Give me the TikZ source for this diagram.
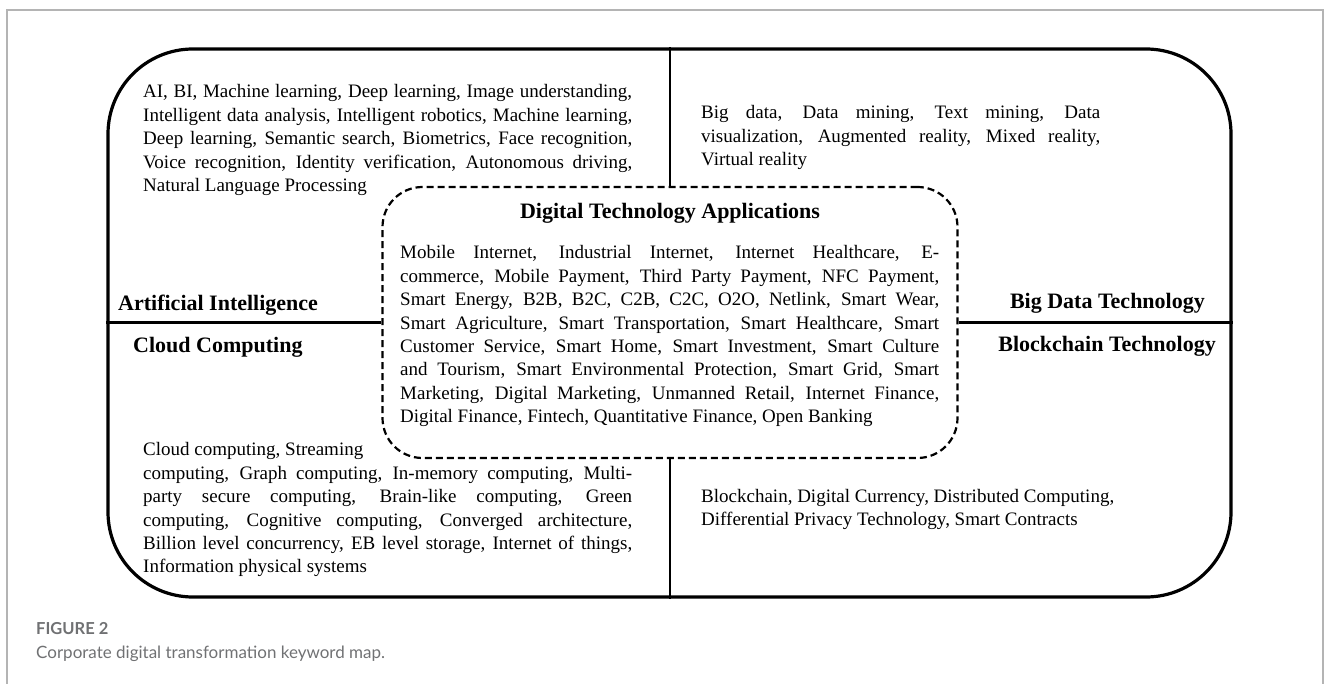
\documentclass[tikz,border=0pt]{standalone}
\usepackage{fontspec}
\setmainfont{Liberation Serif}
\newfontfamily\captionfont{Lato}
\definecolor{captiongray}{HTML}{707173}
\definecolor{framegray}{HTML}{B4B4B4}
\tolerance=9999
\hbadness=10000

\tikzset{
  mapframe/.style={draw, line width=3.2pt, rounded corners=85pt,
    minimum width=1123pt, minimum height=548pt, inner sep=0pt},
  appframe/.style={draw, line width=2.2pt, dash pattern=on 7pt off 4pt,
    rounded corners=40pt, minimum width=575pt, minimum height=271pt, inner sep=0pt},
  divider/.style={line width=2.2pt},
  keywords/.style={anchor=base west, inner sep=0pt, align=justify,
    font=\fontsize{19}{23.4}\selectfont},
  heading/.style={inner sep=0pt, font=\fontsize{22}{25}\selectfont\bfseries},
  caption/.style={anchor=base west, inner sep=0pt, text=captiongray}
}

\begin{document}
\begin{tikzpicture}[x=1pt,y=-1pt]
  \useasboundingbox (0,0) rectangle (1331,684);
  \draw[framegray, line width=1.5pt] (7,684) -- (7,10) -- (1323,10) -- (1323,684);

  \node[mapframe] (map) at (669.5,323) {};
  \node[appframe] (apps) at (670,322.5) {};

  % four fields round the applications
  \draw[divider] (apps.north) -- (apps.north |- map.north);
  \draw[divider] (apps.south) -- (apps.south |- map.south);
  \draw[divider] (apps.west) -- (apps.west -| map.west);
  \draw[divider] (apps.east) -- (apps.east -| map.east);

  \node[heading] (appstitle) at (670,213) {Digital Technology Applications};
  \node[keywords, text width=539pt] (appwords) at (400,259) {Mobile Internet, Industrial Internet, Internet Healthcare, E-\linebreak
    commerce, Mobile Payment, Third Party Payment, NFC Payment,\linebreak
    Smart Energy, B2B, B2C, C2B, C2C, O2O, Netlink, Smart Wear,\linebreak
    Smart Agriculture, Smart Transportation, Smart Healthcare, Smart\linebreak
    Customer Service, Smart Home, Smart Investment, Smart Culture\linebreak
    and Tourism, Smart Environmental Protection, Smart Grid, Smart\linebreak
    Marketing, Digital Marketing, Unmanned Retail, Internet Finance,\linebreak
    Digital Finance, Fintech, Quantitative Finance, Open Banking};

  \node[heading, anchor=west] (ai) at (118,305) {Artificial Intelligence};
  \node[heading, anchor=west] (cloud) at (133,347) {Cloud Computing};
  \node[heading, anchor=east] (bigdata) at (1205,303) {Big Data Technology};
  \node[heading, anchor=east] (chain) at (1216,346) {Blockchain Technology};

  \node[keywords, text width=489pt] (aiwords) at (143,98) {AI, BI, Machine learning, Deep learning, Image understanding,\linebreak
    Intelligent data analysis, Intelligent robotics, Machine learning,\linebreak
    Deep learning, Semantic search, Biometrics, Face recognition,\linebreak
    Voice recognition, Identity verification, Autonomous driving,\linebreak
    Natural Language Processing};
  \node[keywords, text width=399pt] (datawords) at (701,119) {Big data, Data mining, Text mining, Data\linebreak
    visualization, Augmented reality, Mixed reality,\linebreak
    Virtual reality};
  \node[keywords, text width=489pt] (cloudwords) at (143,456) {Cloud computing, Streaming\\
    computing, Graph computing, In-memory computing, Multi-\linebreak
    party secure computing, Brain-like computing, Green\linebreak
    computing, Cognitive computing, Converged architecture,\linebreak
    Billion level concurrency, EB level storage, Internet of things,\linebreak
    Information physical systems};
  \node[keywords, text width=430pt] (chainwords) at (701,502) {Blockchain, Digital Currency, Distributed Computing,\\
    Differential Privacy Technology, Smart Contracts};

  \node[caption, font=\captionfont\fontsize{16.5}{18}\selectfont\bfseries] (fignum) at (36,634) {FIGURE 2};
  \node[caption, font=\captionfont\fontsize{17}{20}\selectfont] (figtext) at (36,658) {Corporate digital transformation keyword map.};
\end{tikzpicture}
\end{document}
